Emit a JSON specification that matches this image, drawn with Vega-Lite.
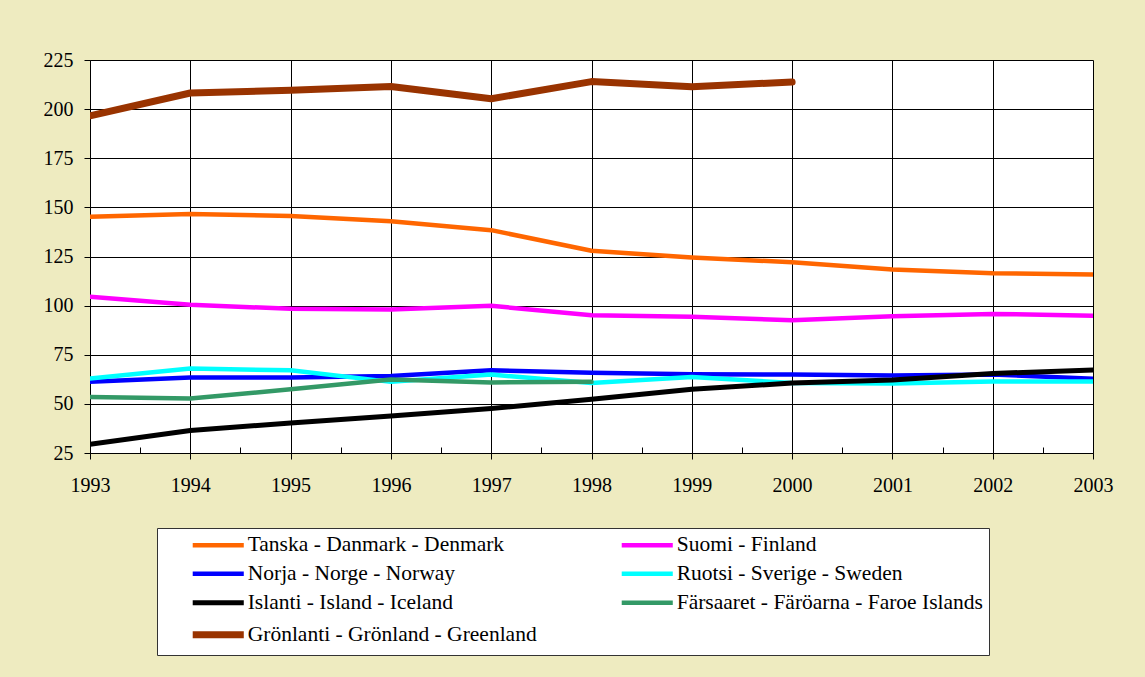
{
  "$schema": "https://vega.github.io/schema/vega-lite/v6.json",
  "width": 1003,
  "height": 393,
  "autosize": {"type": "none"},
  "padding": {"left": 90, "top": 60, "right": 52, "bottom": 224},
  "background": "#EEEBC0",
  "config": {
    "view": {"fill": "#FFFFFF", "stroke": null},
    "font": "Liberation Serif, Times New Roman, DejaVu Serif, serif",
    "axis": {
      "labelFont": "Liberation Serif, Times New Roman, DejaVu Serif, serif",
      "labelFontSize": 20,
      "labelColor": "#000000",
      "domainColor": "#000000",
      "domainWidth": 1,
      "tickColor": "#000000",
      "gridColor": "#000000",
      "gridWidth": 1,
      "title": null
    }
  },
  "data": {
    "values": [
      {"year": 1993, "country": "Tanska - Danmark - Denmark", "value": 145.2},
      {"year": 1994, "country": "Tanska - Danmark - Denmark", "value": 146.6},
      {"year": 1995, "country": "Tanska - Danmark - Denmark", "value": 145.6},
      {"year": 1996, "country": "Tanska - Danmark - Denmark", "value": 142.9},
      {"year": 1997, "country": "Tanska - Danmark - Denmark", "value": 138.4},
      {"year": 1998, "country": "Tanska - Danmark - Denmark", "value": 127.9},
      {"year": 1999, "country": "Tanska - Danmark - Denmark", "value": 124.5},
      {"year": 2000, "country": "Tanska - Danmark - Denmark", "value": 122.1},
      {"year": 2001, "country": "Tanska - Danmark - Denmark", "value": 118.4},
      {"year": 2002, "country": "Tanska - Danmark - Denmark", "value": 116.5},
      {"year": 2003, "country": "Tanska - Danmark - Denmark", "value": 115.9},
      {"year": 1993, "country": "Suomi - Finland", "value": 104.5},
      {"year": 1994, "country": "Suomi - Finland", "value": 100.4},
      {"year": 1995, "country": "Suomi - Finland", "value": 98.4},
      {"year": 1996, "country": "Suomi - Finland", "value": 98.0},
      {"year": 1997, "country": "Suomi - Finland", "value": 99.9},
      {"year": 1998, "country": "Suomi - Finland", "value": 95.1},
      {"year": 1999, "country": "Suomi - Finland", "value": 94.3},
      {"year": 2000, "country": "Suomi - Finland", "value": 92.6},
      {"year": 2001, "country": "Suomi - Finland", "value": 94.6},
      {"year": 2002, "country": "Suomi - Finland", "value": 95.8},
      {"year": 2003, "country": "Suomi - Finland", "value": 94.8},
      {"year": 1993, "country": "Norja - Norge - Norway", "value": 61.2},
      {"year": 1994, "country": "Norja - Norge - Norway", "value": 63.4},
      {"year": 1995, "country": "Norja - Norge - Norway", "value": 63.4},
      {"year": 1996, "country": "Norja - Norge - Norway", "value": 64.2},
      {"year": 1997, "country": "Norja - Norge - Norway", "value": 67.1},
      {"year": 1998, "country": "Norja - Norge - Norway", "value": 65.8},
      {"year": 1999, "country": "Norja - Norge - Norway", "value": 65.1},
      {"year": 2000, "country": "Norja - Norge - Norway", "value": 64.9},
      {"year": 2001, "country": "Norja - Norge - Norway", "value": 64.5},
      {"year": 2002, "country": "Norja - Norge - Norway", "value": 65.0},
      {"year": 2003, "country": "Norja - Norge - Norway", "value": 62.8},
      {"year": 1993, "country": "Ruotsi - Sverige - Sweden", "value": 62.9},
      {"year": 1994, "country": "Ruotsi - Sverige - Sweden", "value": 68.0},
      {"year": 1995, "country": "Ruotsi - Sverige - Sweden", "value": 67.1},
      {"year": 1996, "country": "Ruotsi - Sverige - Sweden", "value": 61.2},
      {"year": 1997, "country": "Ruotsi - Sverige - Sweden", "value": 64.9},
      {"year": 1998, "country": "Ruotsi - Sverige - Sweden", "value": 60.6},
      {"year": 1999, "country": "Ruotsi - Sverige - Sweden", "value": 63.7},
      {"year": 2000, "country": "Ruotsi - Sverige - Sweden", "value": 60.6},
      {"year": 2001, "country": "Ruotsi - Sverige - Sweden", "value": 60.4},
      {"year": 2002, "country": "Ruotsi - Sverige - Sweden", "value": 61.4},
      {"year": 2003, "country": "Ruotsi - Sverige - Sweden", "value": 61.4},
      {"year": 1993, "country": "Islanti - Island - Iceland", "value": 29.4},
      {"year": 1994, "country": "Islanti - Island - Iceland", "value": 36.5},
      {"year": 1995, "country": "Islanti - Island - Iceland", "value": 40.3},
      {"year": 1996, "country": "Islanti - Island - Iceland", "value": 43.8},
      {"year": 1997, "country": "Islanti - Island - Iceland", "value": 47.6},
      {"year": 1998, "country": "Islanti - Island - Iceland", "value": 52.4},
      {"year": 1999, "country": "Islanti - Island - Iceland", "value": 57.4},
      {"year": 2000, "country": "Islanti - Island - Iceland", "value": 60.6},
      {"year": 2001, "country": "Islanti - Island - Iceland", "value": 62.1},
      {"year": 2002, "country": "Islanti - Island - Iceland", "value": 65.5},
      {"year": 2003, "country": "Islanti - Island - Iceland", "value": 67.2},
      {"year": 1993, "country": "Färsaaret - Färöarna - Faroe Islands", "value": 53.5},
      {"year": 1994, "country": "Färsaaret - Färöarna - Faroe Islands", "value": 52.7},
      {"year": 1995, "country": "Färsaaret - Färöarna - Faroe Islands", "value": 57.4},
      {"year": 1996, "country": "Färsaaret - Färöarna - Faroe Islands", "value": 62.4},
      {"year": 1997, "country": "Färsaaret - Färöarna - Faroe Islands", "value": 60.9},
      {"year": 1998, "country": "Färsaaret - Färöarna - Faroe Islands", "value": 61.2},
      {"year": 1993, "country": "Grönlanti - Grönland - Greenland", "value": 196.6},
      {"year": 1994, "country": "Grönlanti - Grönland - Greenland", "value": 208.2},
      {"year": 1995, "country": "Grönlanti - Grönland - Greenland", "value": 209.6},
      {"year": 1996, "country": "Grönlanti - Grönland - Greenland", "value": 211.5},
      {"year": 1997, "country": "Grönlanti - Grönland - Greenland", "value": 205.3},
      {"year": 1998, "country": "Grönlanti - Grönland - Greenland", "value": 214.0},
      {"year": 1999, "country": "Grönlanti - Grönland - Greenland", "value": 211.4},
      {"year": 2000, "country": "Grönlanti - Grönland - Greenland", "value": 213.8}
    ]
  },
  "mark": {"type": "line", "strokeCap": "round", "strokeJoin": "round", "clip": true},
  "encoding": {
    "x": {
      "field": "year",
      "type": "quantitative",
      "scale": {"domain": [1993, 2003], "nice": false, "zero": false},
      "axis": {
        "values": [1993, 1993.5, 1994, 1994.5, 1995, 1995.5, 1996, 1996.5, 1997, 1997.5, 1998, 1998.5, 1999, 1999.5, 2000, 2000.5, 2001, 2001.5, 2002, 2002.5, 2003],
        "labelExpr": "datum.value % 1 === 0 ? format(datum.value, 'd') : ''",
        "tickSize": {"condition": {"test": "datum.value % 1 === 0", "value": 6}, "value": -6},
        "gridOpacity": {"condition": {"test": "datum.value % 1 === 0", "value": 1}, "value": 0},
        "labelPadding": 16,
        "labelFlush": false,
        "labelOverlap": false,
        "grid": true
      }
    },
    "y": {
      "field": "value",
      "type": "quantitative",
      "scale": {"domain": [25, 225], "nice": false, "zero": false},
      "axis": {
        "values": [25, 50, 75, 100, 125, 150, 175, 200, 225],
        "tickSize": 6,
        "labelPadding": 11,
        "grid": true,
        "gridOpacity": 1,
        "labelFlush": false
      }
    },
    "color": {
      "field": "country",
      "type": "nominal",
      "scale": {
        "domain": ["Tanska - Danmark - Denmark", "Suomi - Finland", "Norja - Norge - Norway", "Ruotsi - Sverige - Sweden", "Islanti - Island - Iceland", "Färsaaret - Färöarna - Faroe Islands", "Grönlanti - Grönland - Greenland"],
        "range": ["#FF6600", "#FF00FF", "#0000FF", "#00FFFF", "#000000", "#339966", "#993300"]
      },
      "legend": {
        "title": null,
        "orient": "none",
        "legendX": 67,
        "legendY": 468,
        "direction": "horizontal",
        "columns": 2,
        "columnPadding": 55,
        "rowPadding": 6,
        "padding": 6,
        "symbolOffset": 44.5,
        "symbolType": "M-4,0H4",
        "symbolSize": 163,
        "symbolStrokeWidth": 5,
        "labelFont": "Liberation Serif, Times New Roman, DejaVu Serif, serif",
        "labelFontSize": 21.5,
        "labelColor": "#000000",
        "labelOffset": 18.7,
        "labelLimit": 500,
        "fillColor": "#FFFFFF",
        "strokeColor": "#333333"
      }
    },
    "strokeWidth": {
      "field": "country",
      "type": "nominal",
      "scale": {
        "type": "ordinal",
        "domain": ["Tanska - Danmark - Denmark", "Suomi - Finland", "Norja - Norge - Norway", "Ruotsi - Sverige - Sweden", "Islanti - Island - Iceland", "Färsaaret - Färöarna - Faroe Islands", "Grönlanti - Grönland - Greenland"],
        "range": [4.5, 4.5, 4.5, 4.5, 5, 4.5, 7]
      },
      "legend": null
    }
  }
}
